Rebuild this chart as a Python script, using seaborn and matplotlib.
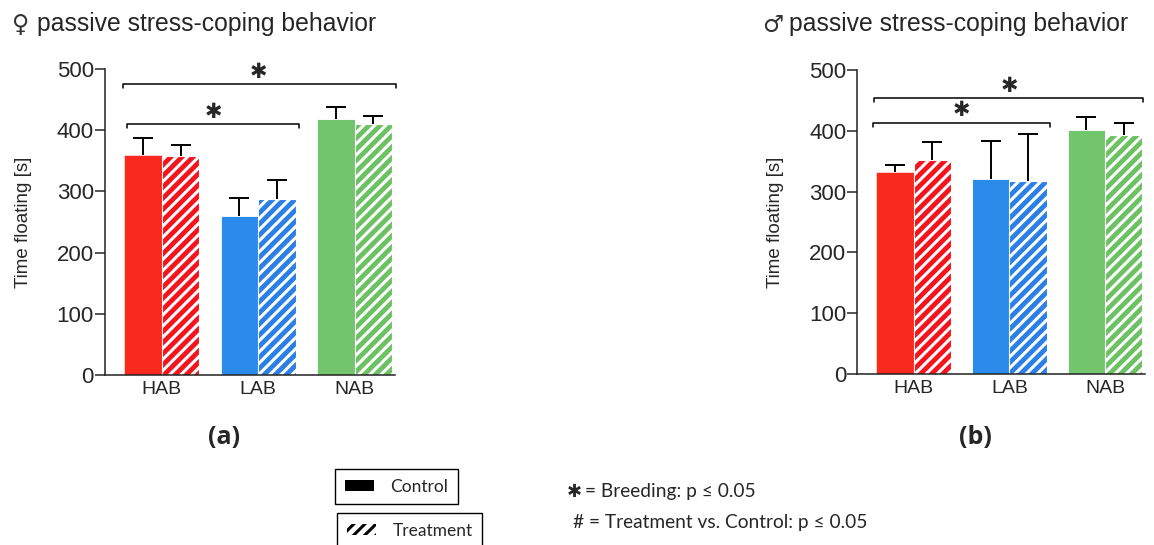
import matplotlib
matplotlib.use("Agg")
import matplotlib.pyplot as plt
from matplotlib.patches import Patch
import seaborn as sns
import pandas as pd

# ---------------- data ----------------
groups = ["HAB", "LAB", "NAB"]
conditions = ["Control", "Treatment"]

female_control = [359, 260, 418]
female_control_err = [28, 30, 20]
female_treatment = [358, 287, 410]
female_treatment_err = [18, 31, 14]

male_control = [332, 321, 402]
male_control_err = [12, 62, 21]
male_treatment = [352, 317, 393]
male_treatment_err = [30, 78, 20]

yticks = [0, 100, 200, 300, 400, 500]

control_colors = ["#FA291E", "#2A8BEB", "#72C46D"]
treatment_colors = ["#F5131E", "#2A80E6", "#6CC163"]

# ---------------- style ----------------
sns.set_style("ticks")
plt.rcParams["font.family"] = ["Liberation Sans", "DejaVu Sans"]
plt.rcParams["hatch.linewidth"] = 2.2

fig = plt.figure(figsize=(11.54, 5.45), dpi=100)
W, H = 1154, 545


def make_df(ctrl, treat):
    return pd.DataFrame({
        "group": groups * 2,
        "condition": ["Control"] * 3 + ["Treatment"] * 3,
        "value": list(ctrl) + list(treat),
    })


def panel(rect, ctrl, ctrl_err, treat, treat_err, brackets, stars, labx):
    ax = fig.add_axes(rect)
    df = make_df(ctrl, treat)
    sns.barplot(data=df, x="group", y="value", hue="condition",
                order=groups, hue_order=conditions, width=0.78,
                errorbar=None, legend=False, ax=ax)
    errs = [ctrl_err, treat_err]
    bar_conts = list(ax.containers)
    for ci, cont in enumerate(bar_conts):
        for gi, bar in enumerate(cont.patches):
            if ci == 0:
                bar.set_facecolor(control_colors[gi])
                bar.set_edgecolor("#FFD9D6" if gi == 0 else "white")
                bar.set_linewidth(0.6)
            else:
                bar.set_facecolor(treatment_colors[gi])
                bar.set_edgecolor("white")
                bar.set_linewidth(0.8)
                bar.set_hatch("///")
            xc = bar.get_x() + bar.get_width() / 2
            h = bar.get_height()
            _, caps, _ = ax.errorbar([xc], [h], yerr=[[0], [errs[ci][gi]]],
                                     fmt="none", ecolor="black",
                                     elinewidth=1.4, capsize=7,
                                     capthick=1.4, zorder=1)
            caps[0].set_visible(False)
    ax.set_ylim(0, 500)
    ax.set_xlim(-0.59, 2.42)
    ax.set_yticks(yticks)
    ax.set_xlabel("")
    ax.set_ylabel("Time floating [s]", fontsize=13.5)
    ax.yaxis.set_label_coords(labx, 0.5)
    sns.despine(ax=ax)
    for s in ["left", "bottom"]:
        ax.spines[s].set_linewidth(1.1)
        ax.spines[s].set_color("#222222")
    ax.tick_params(axis="y", length=7, width=1.1, labelsize=16, pad=1)
    ax.tick_params(axis="x", length=0, labelsize=14, pad=4)
    # significance brackets
    for (x0, x1, y) in brackets:
        ax.plot([x0, x0, x1, x1], [y - 6, y, y, y - 6], color="black",
                lw=1.1, clip_on=False)
    for (x, y) in stars:
        ax.text(x, y, "\u2731", ha="center", va="center", fontsize=15,
                family=["DejaVu Sans"], clip_on=False)
    return ax


axL = panel([105 / W, (H - 375) / H, 290 / W, 306 / H],
            female_control, female_control_err,
            female_treatment, female_treatment_err,
            brackets=[(-0.406, 2.427, 475), (-0.365, 1.424, 410)],
            stars=[(1.0, 495), (0.53, 430)], labx=-0.25)

axR = panel([857.3 / W, (H - 374) / H, 288 / W, 304 / H],
            male_control, male_control_err,
            male_treatment, male_treatment_err,
            brackets=[(-0.412, 2.393, 454), (-0.429, 1.424, 413)],
            stars=[(1.0, 474), (0.50, 434)], labx=-0.255)

# titles
for xs, xt, sym in [(12, 37, "\u2640"), (762, 789, "\u2642")]:
    fig.text(xs / W, 1 - 32 / H, sym, fontsize=17, va="baseline",
             ha="left", family=["DejaVu Sans"], color="#333333")
    fig.text(xt / W, 1 - 31 / H, "passive stress-coping behavior",
             fontsize=17.8, va="baseline", ha="left")

# panel labels
fig.text(224 / W, 1 - 444 / H, "(a)", fontsize=18, fontweight="bold",
         ha="center", va="baseline", family=["Open Sans", "DejaVu Sans"])
fig.text(975 / W, 1 - 444 / H, "(b)", fontsize=18, fontweight="bold",
         ha="center", va="baseline", family=["Open Sans", "DejaVu Sans"])

# legends
leg_font = {"family": ["Lato", "DejaVu Sans"], "size": 12.5}
h_ctrl = Patch(facecolor="black", edgecolor="black", linewidth=0)
h_trt = Patch(facecolor="white", edgecolor="black", hatch="///", linewidth=0)
leg1 = fig.legend(handles=[h_ctrl], labels=["Control"], loc="upper left",
                  bbox_to_anchor=(335 / W, 1 - 469 / H), prop=leg_font,
                  fancybox=False, edgecolor="black", framealpha=1,
                  borderpad=0.55, handlelength=1.7, handleheight=0.6,
                  handletextpad=0.95, borderaxespad=0)
leg1.get_frame().set_linewidth(1.0)
leg2 = fig.legend(handles=[h_trt], labels=["Treatment"], loc="upper left",
                  bbox_to_anchor=(337 / W, 1 - 513 / H), prop=leg_font,
                  fancybox=False, edgecolor="black", framealpha=1,
                  borderpad=0.55, handlelength=1.7, handleheight=0.6,
                  handletextpad=0.95, borderaxespad=0)
leg2.get_frame().set_linewidth(1.0)

# significance key
fig.text(567 / W, 1 - 497 / H, "\u2731", fontsize=13, ha="left",
         va="baseline", family=["DejaVu Sans"])
fig.text(585 / W, 1 - 497 / H, "= Breeding: p \u2264 0.05", fontsize=13.8,
         ha="left", va="baseline", family=["Lato", "DejaVu Sans"])
fig.text(573 / W, 1 - 528 / H, "# = Treatment vs. Control: p \u2264 0.05",
         fontsize=13.8, ha="left", va="baseline",
         family=["Lato", "DejaVu Sans"])

fig.savefig("out.png", dpi=100)
